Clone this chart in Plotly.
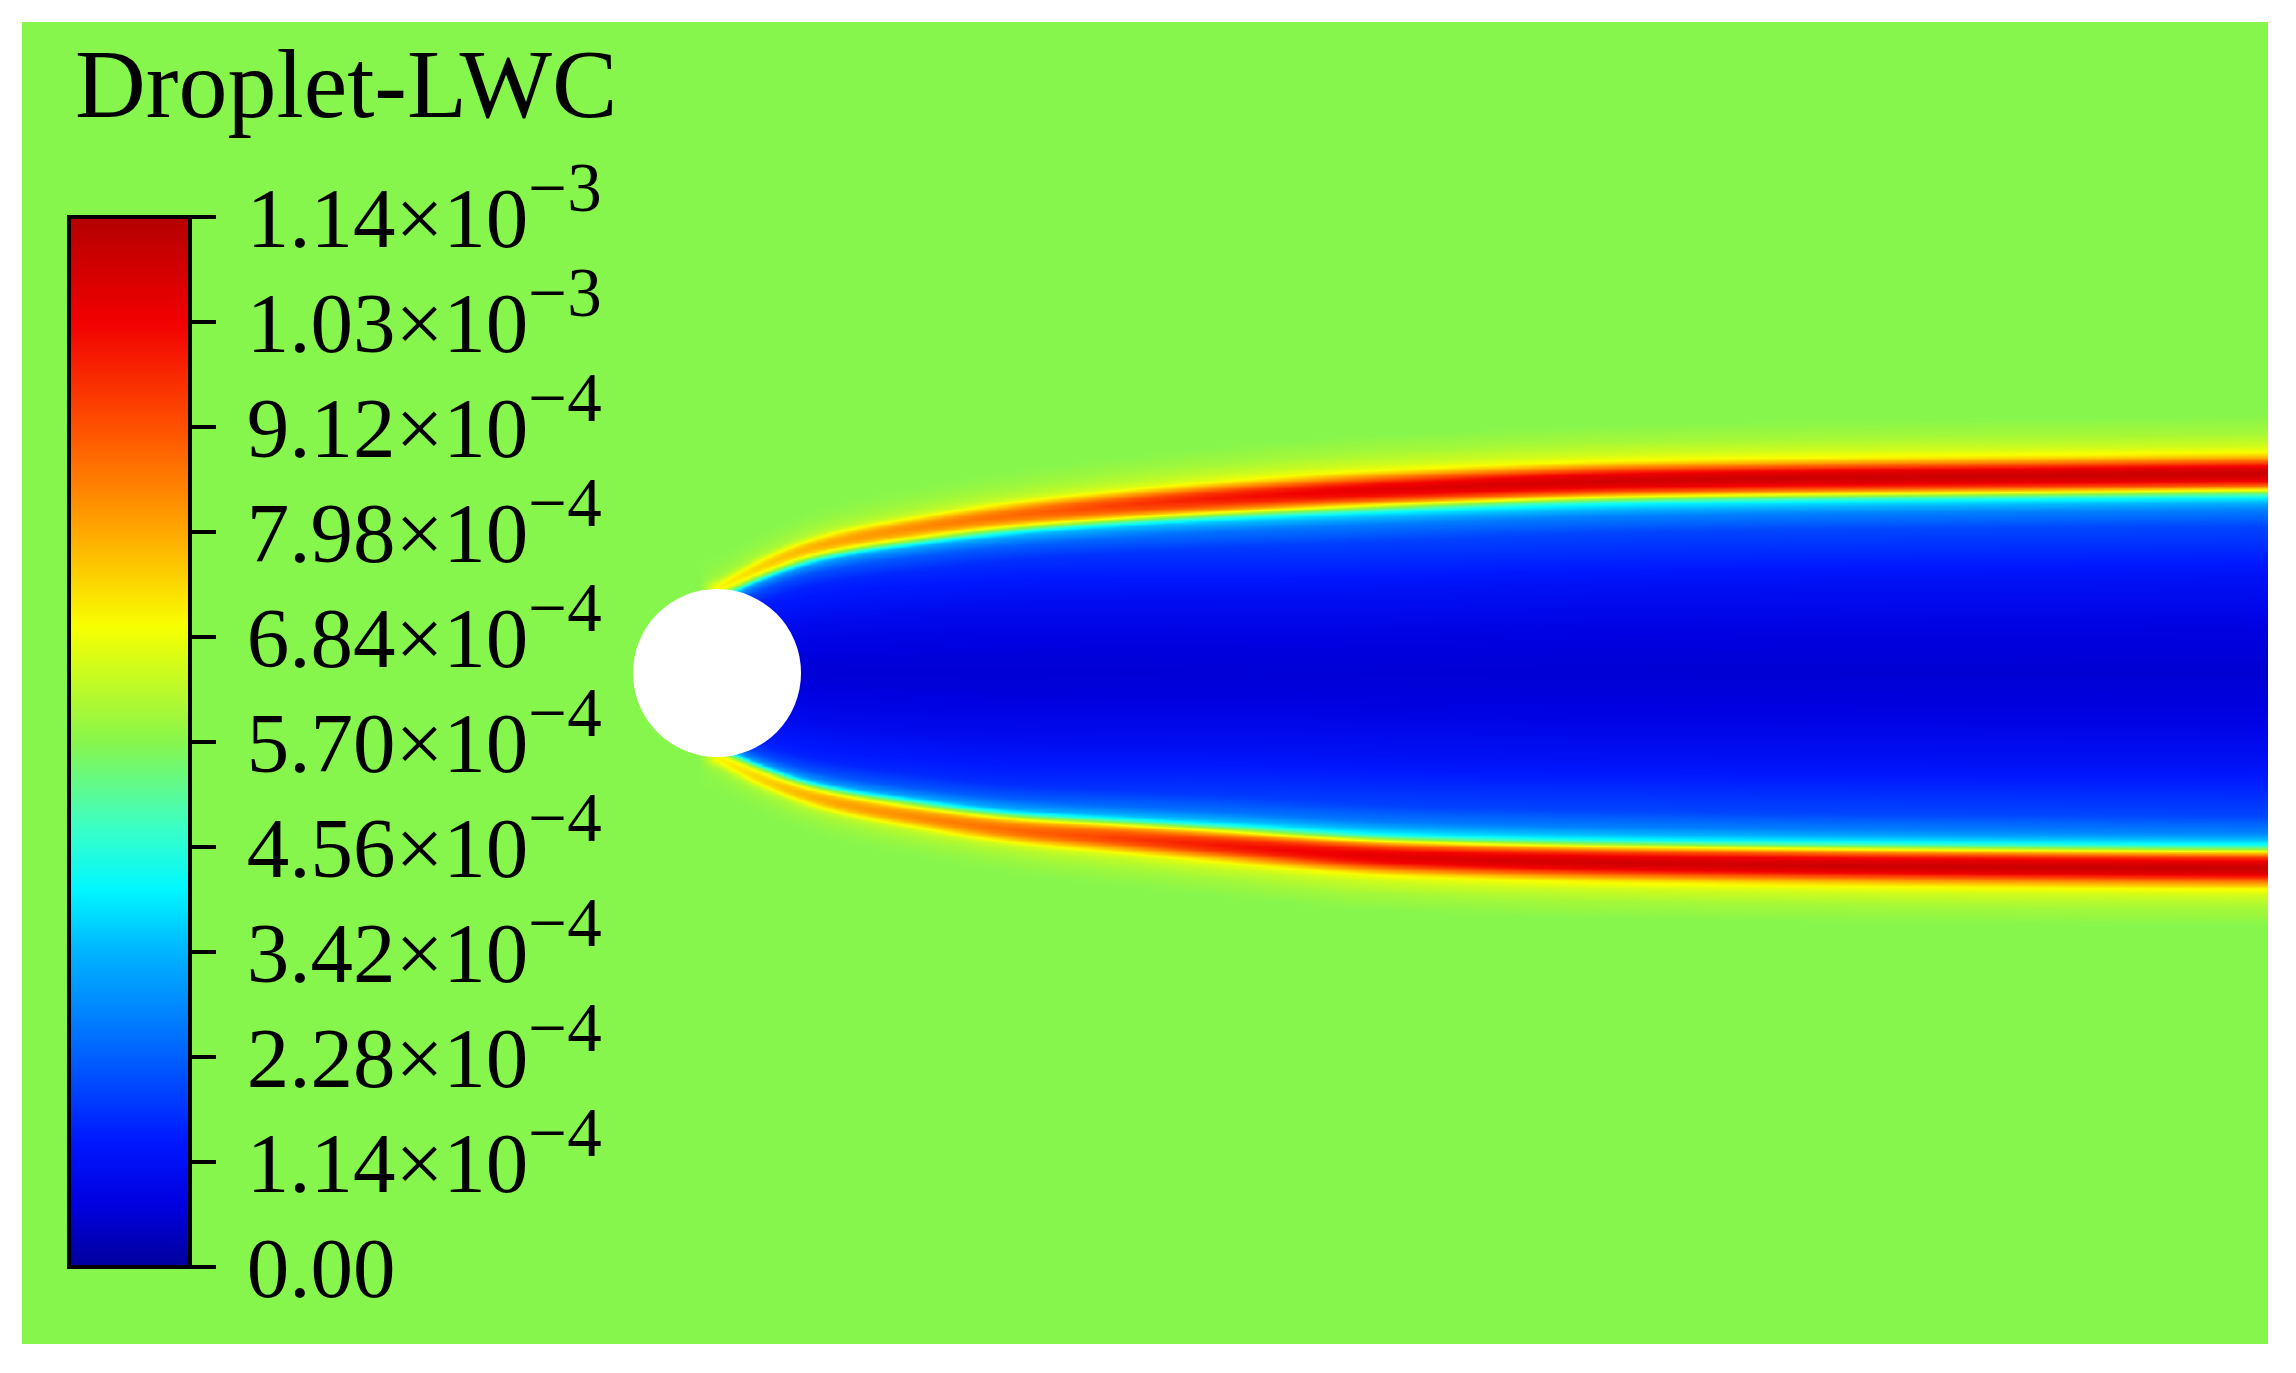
import numpy as np
import plotly.graph_objects as go

# --- values (lengths in cylinder diameters D, cylinder centre at 0,0) ---
LWC_MAX = 1.14e-3
x_range = [-4.137, 9.232]
y_range = [-3.994, 3.875]

# position of the droplet-rich band (distance from wake centreline) at stations along x
station_x = [0.0, 0.61, 1.21, 1.80, 2.40, 2.95, 4.07, 5.51, 8.21, 9.25]
band_upper = [0.5, 0.76, 0.87, 0.946, 1.0, 1.04, 1.10, 1.15, 1.18, 1.19]
band_lower = [0.5, 0.745, 0.857, 0.935, 0.98, 1.02, 1.095, 1.13, 1.155, 1.16]

# peak LWC in the band (fraction of max) and band width factors along x
peak_x = [0.0, 0.6, 1.2, 1.8, 2.4, 3.0, 4.0, 5.5, 9.25]
peak_val = [0.62, 0.7, 0.74, 0.78, 0.83, 0.88, 0.93, 0.96, 0.97]
width_x = [0.0, 1.2, 2.4, 4.0, 9.25]
width_out = [0.6, 0.75, 0.88, 1.0, 1.05]
width_in = [0.65, 0.85, 0.95, 1.03, 1.05]

# cross-band profile, outward (towards free stream) and inward (towards wake centre)
out_off = [0.0, 0.036, 0.065, 0.089, 0.113, 0.155, 0.226, 0.327]
out_shape = [1.0, 0.894, 0.638, 0.426, 0.255, 0.149, 0.064, 0.0]
in_off = [0.0, 0.036, 0.065, 0.083, 0.095, 0.113, 0.137, 0.167, 0.202, 0.298, 0.595, 0.893, 1.19]
in_shape = [1.0, 0.946, 0.817, 0.688, 0.602, 0.462, 0.344, 0.28, 0.215, 0.14, 0.065, 0.022, 0.005]

free_stream = 0.5
wake_core = 0.04

tick_vals = [i * 1.14e-4 for i in range(11)]
tick_text = ["0.00", "1.14×10<sup>−4</sup>", "2.28×10<sup>−4</sup>", "3.42×10<sup>−4</sup>",
             "4.56×10<sup>−4</sup>", "5.70×10<sup>−4</sup>", "6.84×10<sup>−4</sup>",
             "7.98×10<sup>−4</sup>", "9.12×10<sup>−4</sup>", "1.03×10<sup>−3</sup>",
             "1.14×10<sup>−3</sup>"]

cs_pos = [0.0, 0.06, 0.12, 0.2, 0.3, 0.36, 0.42, 0.5, 0.61, 0.7, 0.8, 0.9, 1.0]
cs_col = ["#00009c", "#0000e0", "#0018ff", "#0060ff", "#00b4ff", "#00f8ff", "#3cffc4",
          "#87f64c", "#f8ff00", "#ffa800", "#ff5000", "#f20000", "#b40000"]


def pchip(xq, xk, yk):
    # monotone cubic through the read stations, flat outside them
    xk = np.asarray(xk, float)
    yk = np.asarray(yk, float)
    hk = np.diff(xk)
    dk = np.diff(yk) / hk
    m = np.zeros_like(yk)
    for i in range(1, len(xk) - 1):
        if dk[i - 1] * dk[i] > 0:
            w1 = 2 * hk[i] + hk[i - 1]
            w2 = hk[i] + 2 * hk[i - 1]
            m[i] = (w1 + w2) / (w1 / dk[i - 1] + w2 / dk[i])
    m[0] = max(0.0, ((2 * hk[0] + hk[1]) * dk[0] - hk[0] * dk[1]) / (hk[0] + hk[1]))
    m[-1] = dk[-1] * 0.5
    xq = np.clip(xq, xk[0], xk[-1])
    i = np.clip(np.searchsorted(xk, xq) - 1, 0, len(xk) - 2)
    t = (xq - xk[i]) / hk[i]
    h00 = 2 * t**3 - 3 * t**2 + 1
    h10 = t**3 - 2 * t**2 + t
    h01 = -2 * t**3 + 3 * t**2
    h11 = t**3 - t**2
    return h00 * yk[i] + h10 * hk[i] * m[i] + h01 * yk[i + 1] + h11 * hk[i] * m[i + 1]


# --- build the field ---
nx, ny = 820, 520
xs = np.linspace(x_range[0], x_range[1], nx)
ys = np.linspace(y_range[0], y_range[1], ny)

hu = pchip(xs, station_x, band_upper)
hl = pchip(xs, station_x, band_lower)
pk = pchip(xs, peak_x, peak_val)
wo = pchip(xs, width_x, width_out)
wi = pchip(xs, width_x, width_in)

X, Y = np.meshgrid(xs, ys)
H = np.where(Y >= 0, hu[None, :], hl[None, :])
PK = np.broadcast_to(pk[None, :], X.shape)
dist = np.abs(Y) - H

v_out = free_stream + (PK - free_stream) * np.interp(dist / wo[None, :], out_off, out_shape)
v_in = wake_core + (PK - wake_core) * np.interp(-dist / wi[None, :], in_off, in_shape)
v = np.where(dist >= 0, v_out, v_in)

fade = np.clip(1 + X / 0.1, 0, 1)
v = free_stream + fade * (v - free_stream)
z = (v * LWC_MAX).astype(np.float32)

serif = "Liberation Serif, Times New Roman, serif"

fig = go.Figure()
fig.add_trace(go.Heatmap(
    x=xs, y=ys, z=z, zmin=0, zmax=LWC_MAX, zsmooth="best",
    colorscale=[[p, c] for p, c in zip(cs_pos, cs_col)],
    hoverinfo="skip",
    colorbar=dict(
        x=0.0209, xanchor="left", xpad=0,
        y=0.8525, yanchor="top", ypad=0,
        len=1050, lenmode="pixels", thickness=121,
        outlinewidth=4, outlinecolor="black",
        ticks="outside", ticklen=24, tickwidth=4, tickcolor="black",
        tickvals=tick_vals,
        ticktext=["\u2006" + t.replace("<sup>", "<sup><span style='font-size:69px'>")
                  .replace("</sup>", "</span></sup>") for t in tick_text],
        tickfont=dict(family=serif, size=85, color="black"),
    ),
))

# cylinder
fig.add_shape(type="circle", xref="x", yref="y", x0=-0.5, x1=0.5, y0=-0.5, y1=0.5,
              fillcolor="white", line=dict(width=0), layer="above")

fig.add_annotation(text="Droplet-LWC", xref="paper", yref="paper", x=0.0227, y=0.953,
                   xanchor="left", yanchor="middle", showarrow=False,
                   font=dict(family=serif, size=98, color="black"))

fig.update_xaxes(range=x_range, visible=False, showgrid=False, zeroline=False)
fig.update_yaxes(range=y_range, visible=False, showgrid=False, zeroline=False)
fig.update_layout(width=2280, height=1357, margin=dict(l=14, r=20, t=14, b=21),
                  paper_bgcolor="white", plot_bgcolor="#87f64c", showlegend=False)

fig.write_html("out.html")
